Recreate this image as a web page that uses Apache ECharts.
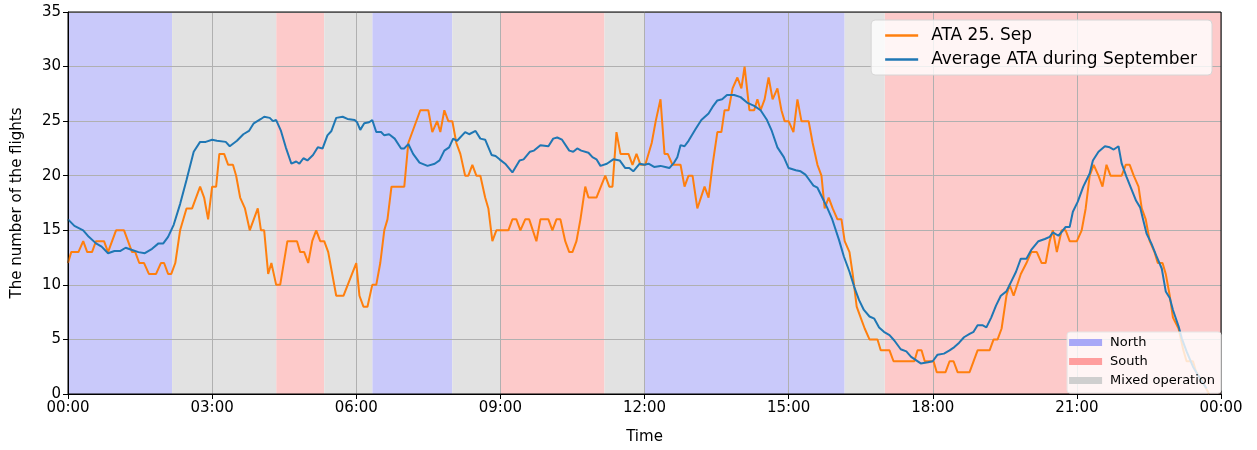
<!DOCTYPE html>
<html>
<head>
<meta charset="utf-8">
<script src="https://cdn.jsdelivr.net/npm/echarts@6/dist/echarts.min.js"></script>
<style>
  html, body { margin: 0; padding: 0; background: #fff; }
  #chart { width: 1257px; height: 450px; }
</style>
</head>
<body>
<div id="chart"></div>
<script>
// minutes after midnight -> flights (ATA 25. Sep)
var ataTimes = [0,4,13,19,24,30,35,45,50,60,70,80,84,89,95,101,110,116,120,125,129,134,140,148,155,165,170,175,180,185,189,195,200,206,210,215,221,227,237,241,245,250,254,260,265,274,286,290,295,300,305,310,315,320,325,335,344,360,364,369,374,380,385,390,395,399,404,420,425,440,450,455,461,465,470,475,480,485,490,496,500,505,510,515,521,525,530,535,550,555,560,565,571,576,585,590,600,605,610,615,621,626,630,635,640,646,650,660,671,676,680,685,690,700,705,710,715,721,729,734,740,745,749,755,765,770,775,780,786,795,800,805,811,816,820,825,830,836,841,845,851,857,861,865,870,875,880,886,891,895,900,906,911,916,925,930,936,941,945,950,955,961,966,970,976,980,985,990,995,1001,1011,1015,1026,1031,1057,1061,1066,1070,1081,1085,1096,1101,1106,1111,1126,1136,1151,1156,1161,1166,1172,1176,1181,1190,1197,1203,1210,1216,1221,1226,1230,1235,1241,1246,1251,1260,1266,1271,1276,1281,1287,1292,1297,1302,1316,1321,1326,1331,1337,1341,1346,1351,1357,1361,1367,1371,1376,1380,1387,1393,1397,1405,1409,1418,1425];
var ataValues = [12,13,13,14,13,13,14,14,13,15,15,13,13,12,12,11,11,12,12,11,11,12,15,17,17,19,18,16,19,19,22,22,21,21,20,18,17,15,17,15,15,11,12,10,10,14,14,13,13,12,14,15,14,14,13,9,9,12,9,8,8,10,10,12,15,16,19,19,23,26,26,24,25,24,26,25,25,23,22,20,20,21,20,20,18,17,14,15,15,16,16,15,16,16,14,16,16,15,16,16,14,13,13,14,16,19,18,18,20,19,19,24,22,22,21,22,21,21,23,25,27,22,22,21,21,19,20,20,17,19,18,21,24,24,26,26,28,29,28,30,26,26,27,26,27,29,27,28,26,25,25,24,27,25,25,23,21,20,17,18,17,16,16,14,13,11,8,7,6,5,5,4,4,3,3,4,4,3,3,2,2,3,3,2,2,4,4,5,5,6,9,10,9,11,12,13,13,12,12,14,15,13,15,15,14,14,15,17,20,21,20,19,21,20,20,21,21,20,19,17,16,14,13,12,12,11,9,7,6,4,3,3,2,1,0];

// minutes after midnight -> flights (average ATA during September)
var avgTimes = [0,8,19,26,35,42,50,58,65,72,80,88,96,105,113,119,125,132,140,148,157,165,172,180,186,197,202,211,219,226,232,241,245,252,256,260,266,272,279,285,289,294,299,306,312,318,324,329,335,343,349,358,361,365,370,376,380,385,391,395,401,408,416,420,425,431,439,449,458,464,470,476,481,486,496,501,509,515,521,529,534,539,546,555,564,569,577,582,590,600,606,611,617,626,631,636,641,650,655,660,665,673,681,689,696,701,706,714,720,725,732,740,746,751,757,761,765,770,775,784,791,800,805,811,817,823,832,840,848,857,865,873,879,886,894,900,909,915,921,925,931,936,942,948,954,963,969,976,982,988,994,1001,1007,1013,1019,1026,1032,1040,1047,1053,1059,1065,1074,1080,1086,1094,1101,1107,1113,1119,1126,1131,1136,1142,1147,1153,1159,1165,1172,1178,1184,1190,1197,1203,1212,1220,1226,1230,1237,1246,1251,1255,1261,1268,1276,1280,1287,1295,1301,1306,1312,1316,1322,1328,1334,1339,1343,1347,1353,1359,1366,1371,1376,1380,1387,1391,1397,1405,1414,1422];
var avgValues = [16.0,15.4,15.0,14.4,13.8,13.5,12.9,13.1,13.1,13.4,13.2,13.0,12.9,13.3,13.8,13.8,14.4,15.5,17.4,19.6,22.2,23.1,23.1,23.3,23.2,23.1,22.7,23.2,23.8,24.1,24.8,25.2,25.4,25.3,25.0,25.1,24.1,22.6,21.1,21.3,21.1,21.6,21.4,21.9,22.6,22.5,23.7,24.1,25.3,25.4,25.2,25.1,24.9,24.2,24.8,24.9,25.1,24.0,24.0,23.7,23.8,23.4,22.5,22.5,22.9,22.0,21.2,20.9,21.1,21.4,22.3,22.6,23.4,23.2,24.0,23.8,24.1,23.4,23.3,21.9,21.8,21.5,21.1,20.3,21.4,21.5,22.2,22.3,22.8,22.7,23.4,23.5,23.3,22.3,22.2,22.5,22.3,22.1,21.7,21.5,20.9,21.1,21.5,21.4,20.7,20.7,20.4,21.1,21.0,21.1,20.8,20.9,20.8,20.7,21.2,21.7,22.8,22.7,23.2,24.3,25.1,25.7,26.3,26.9,27.0,27.4,27.4,27.2,26.7,26.4,26.0,25.1,24.1,22.6,21.7,20.7,20.5,20.4,20.1,19.7,19.1,18.9,18.0,17.1,16.1,14.1,12.6,11.2,9.8,8.6,7.7,7.1,6.9,6.1,5.7,5.4,4.9,4.1,3.9,3.4,3.1,2.8,2.9,3.0,3.6,3.7,4.0,4.3,4.7,5.2,5.5,5.7,6.3,6.3,6.1,7.0,8.1,9.0,9.4,10.3,11.2,12.4,12.4,13.2,14.0,14.2,14.4,14.8,14.5,15.3,15.3,16.7,17.6,19.0,20.2,21.4,22.2,22.7,22.6,22.4,22.7,21.1,19.9,18.8,17.7,17.1,15.9,14.7,13.8,12.7,11.5,9.4,8.8,7.7,6.2,5.1,3.9,2.5,1.4,0.5];

// runway operation periods (minutes)
var bandStart = [0, 130, 260, 320, 380, 480, 540, 670, 720, 970, 1020];
var bandEnd   = [130, 260, 320, 380, 480, 540, 670, 720, 970, 1020, 1440];
var bandMode  = ['North', 'Mixed operation', 'South', 'Mixed operation', 'North', 'Mixed operation', 'South', 'Mixed operation', 'North', 'Mixed operation', 'South'];

var modeNames = ['North', 'South', 'Mixed operation'];
var modeBand = { 'North': '#c9c9fa', 'South': '#fdcaca', 'Mixed operation': '#e2e2e2' };
var modePatch = { 'North': '#a8a8f7', 'South': '#ff9e9e', 'Mixed operation': '#cfcfcf' };

function pairs(xs, ys) {
    return xs.map(function (x, i) { return [x, ys[i]]; });
}

function fmtTime(v) {
    var m = v % 1440;
    var h = Math.floor(m / 60), mm = m % 60;
    return (h < 10 ? '0' : '') + h + ':' + (mm < 10 ? '0' : '') + mm;
}

var bandSeries = modeNames.map(function (mode) {
    var areas = [];
    bandMode.forEach(function (m, i) {
        if (m === mode) areas.push([{ xAxis: bandStart[i] }, { xAxis: bandEnd[i] }]);
    });
    return {
        name: mode,
        type: 'line',
        data: [],
        z: 1,
        color: modePatch[mode],
        symbol: 'none',
        silent: true,
        markArea: {
            silent: true,
            itemStyle: { color: modeBand[mode], opacity: 1 },
            data: areas
        }
    };
});

var chart = echarts.init(document.getElementById('chart'));
var font = 'DejaVu Sans';

var option = {
    backgroundColor: '#ffffff',
    animation: false,
    textStyle: { fontFamily: font },
    grid: {
        left: 68, right: 36, top: 12, bottom: 56,
        show: true, z: 3,
        borderColor: '#000', borderWidth: 1,
        backgroundColor: 'transparent'
    },
    legend: [{
        data: ['ATA 25. Sep', 'Average ATA during September'],
        orient: 'vertical',
        right: 45, top: 20,
        icon: 'rect', itemWidth: 33, itemHeight: 2.5, itemGap: 7,
        padding: [7, 15, 7, 14],
        backgroundColor: 'rgba(255,255,255,0.8)',
        borderColor: '#d6d6d6', borderWidth: 1, borderRadius: 4,
        textStyle: { fontFamily: font, fontSize: 17, lineHeight: 17, color: '#000', padding: [0, 0, 0, 8] }
    }, {
        data: modeNames,
        orient: 'vertical',
        right: 36, bottom: 57,
        icon: 'rect', itemWidth: 33, itemHeight: 7, itemGap: 6,
        padding: [4, 6, 6, 2],
        backgroundColor: 'rgba(255,255,255,0.8)',
        borderColor: '#e6e6e6', borderWidth: 1, borderRadius: 3,
        selectedMode: false,
        textStyle: { fontFamily: font, fontSize: 13, lineHeight: 13, color: '#000', padding: [0, 0, 0, 3] }
    }],
    xAxis: {
        type: 'value',
        min: 0, max: 1440, interval: 180,
        z: 1.5,
        name: 'Time', nameLocation: 'middle', nameGap: 36,
        nameTextStyle: { fontFamily: font, fontSize: 15, color: '#000' },
        axisLine: { lineStyle: { color: '#000', width: 1 } },
        axisTick: { lineStyle: { color: '#000' }, length: 5 },
        axisLabel: { formatter: fmtTime, fontSize: 15, color: '#000', margin: 7 },
        splitLine: { show: true, lineStyle: { color: '#b0b0b0', width: 1 } }
    },
    yAxis: {
        type: 'value',
        min: 0, max: 35, interval: 5,
        z: 1.5,
        name: 'The number of the flights', nameLocation: 'middle', nameGap: 43,
        nameTextStyle: { fontFamily: font, fontSize: 15, color: '#000' },
        axisLine: { show: true, lineStyle: { color: '#000', width: 1 } },
        axisTick: { show: true, lineStyle: { color: '#000' }, length: 5 },
        axisLabel: { fontSize: 15, color: '#000', margin: 7 },
        splitLine: { show: true, lineStyle: { color: '#b0b0b0', width: 1 } }
    },
    series: bandSeries.concat([
        {
            name: 'ATA 25. Sep',
            type: 'line',
            data: pairs(ataTimes, ataValues),
            symbol: 'none',
            color: '#ff7f0e',
            lineStyle: { width: 2, color: '#ff7f0e' },
            z: 2
        },
        {
            name: 'Average ATA during September',
            type: 'line',
            data: pairs(avgTimes, avgValues),
            symbol: 'none',
            color: '#1f77b4',
            lineStyle: { width: 2, color: '#1f77b4' },
            z: 2
        }
    ])
};

chart.setOption(option);
</script>
</body>
</html>
